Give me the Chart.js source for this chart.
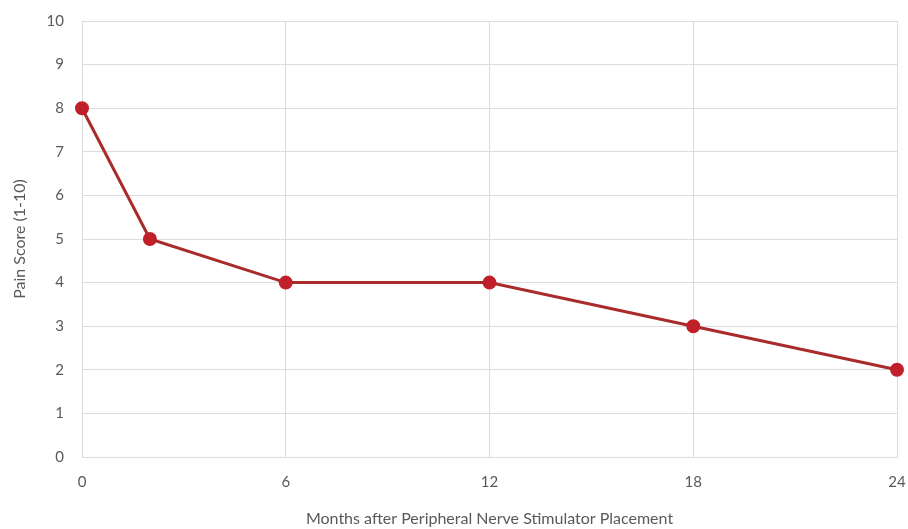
<!DOCTYPE html>
<html>
<head>
<meta charset="utf-8">
<script src="https://cdn.jsdelivr.net/npm/chart.js@4"></script>
<style>
  html, body { margin: 0; padding: 0; background: #fff; }
  #wrap { width: 908px; height: 529px; }
</style>
</head>
<body>
<div id="wrap"><canvas id="painChart" width="908" height="529"></canvas></div>
<script>
// months after placement and pain scores
const months = [0, 2, 6, 12, 18, 24];
const painScores = [8, 5, 4, 4, 3, 2];
const xTicks = [0, 6, 12, 18, 24];

const points = months.map((m, i) => ({ x: m, y: painScores[i] }));

const textColor = '#595959';
const gridColor = '#dcdcdc';
const fontFamily = 'Lato, "Open Sans", sans-serif';

new Chart(document.getElementById('painChart').getContext('2d'), {
    type: 'line',
    data: {
        datasets: [{
            data: points,
            borderColor: '#a92b2b',
            backgroundColor: '#c0202a',
            pointBackgroundColor: '#c0202a',
            pointBorderColor: '#c0202a',
            borderWidth: 3,
            pointRadius: 5.5,
            tension: 0,
            clip: false
        }]
    },
    options: {
        responsive: false,
        animation: false,
        layout: { padding: { top: 21, right: 0, left: 0, bottom: 0 } },
        plugins: { legend: { display: false }, tooltip: { enabled: false } },
        scales: {
            x: {
                type: 'linear',
                min: 0,
                max: 24,
                afterBuildTicks: axis => { axis.ticks = xTicks.map(v => ({ value: v })); },
                afterFit: axis => { axis.height = 72; axis.paddingRight = 11; },
                grid: { color: gridColor, drawTicks: false },
                border: { color: gridColor },
                ticks: { color: textColor, padding: 16, font: { family: fontFamily, size: 15 } },
                title: {
                    display: true,
                    text: 'Months after Peripheral Nerve Stimulator Placement',
                    color: textColor,
                    font: { family: fontFamily, size: 16 },
                    padding: { top: 13, bottom: 1 }
                }
            },
            y: {
                min: 0,
                max: 10,
                ticks: { stepSize: 1, color: textColor, padding: 18, font: { family: fontFamily, size: 15 } },
                afterFit: axis => { axis.width = 82; axis.paddingTop = 0; axis.paddingBottom = 0; },
                grid: { color: gridColor, drawTicks: false },
                border: { color: gridColor },
                title: {
                    display: true,
                    text: 'Pain Score (1-10)',
                    color: textColor,
                    font: { family: fontFamily, size: 16 },
                    padding: { top: 10, bottom: 6 }
                }
            }
        }
    }
});
</script>
</body>
</html>
